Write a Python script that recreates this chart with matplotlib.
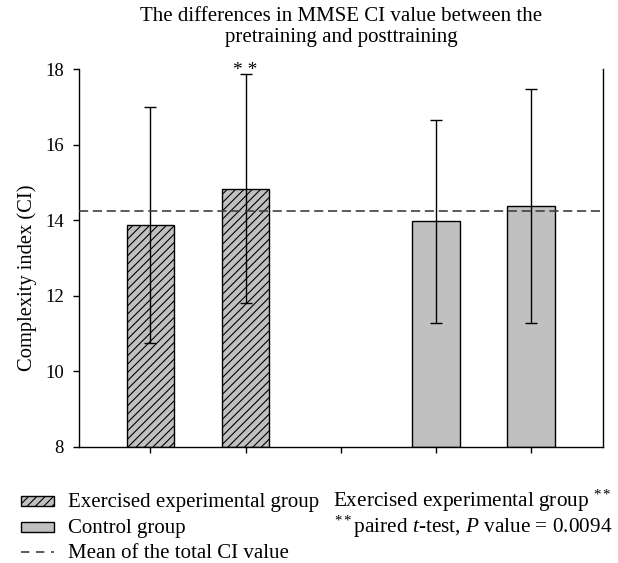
import matplotlib
matplotlib.use("Agg")
import matplotlib.pyplot as plt
from matplotlib.patches import Rectangle
from matplotlib.lines import Line2D

plt.rcParams['font.family'] = ['Liberation Serif', 'DejaVu Serif']
plt.rcParams['mathtext.fontset'] = 'custom'
plt.rcParams['mathtext.rm'] = 'Liberation Serif'
plt.rcParams['mathtext.it'] = 'Liberation Serif:italic'
plt.rcParams['hatch.linewidth'] = 0.8

# ---- data ----
positions = [1, 2, 4, 5]
groups = ["exercised", "exercised", "control", "control"]
means = [13.88, 14.84, 13.97, 14.38]
errors = [3.12, 3.04, 2.69, 3.11]
total_mean = 14.25
yticks = [8, 10, 12, 14, 16, 18]
title_lines = ["The differences in MMSE CI value between the",
               "pretraining and posttraining"]
ylabel = "Complexity index (CI)"
legend_labels = ["Exercised experimental group", "Control group",
                 "Mean of the total CI value"]
note_lines = ["Exercised experimental group ${}^{**}$",
              "${}^{**}$paired $t$-test, $P$ value = 0.0094"]

W, H = 618, 563
fig = plt.figure(figsize=(W / 100, H / 100), dpi=100)


def fx(x):
    return x / W


def fy(y):
    return 1 - y / H


L, R, T, B = 79, 602.7, 69.3, 446.7
ax = fig.add_axes([fx(L), fy(B), fx(R) - fx(L), fy(T) - fy(B)])

bar_color = "#c0c0c0"
for p, g, m, e in zip(positions, groups, means, errors):
    ax.bar(p, m - 8, bottom=8, width=0.5, color=bar_color, edgecolor="black",
           linewidth=1.0, hatch="////" if g == "exercised" else None, zorder=2)
    ax.errorbar(p, m, yerr=e, fmt="none", ecolor="black", elinewidth=1.0,
                capsize=4, capthick=1.0, zorder=3)

ax.axhline(total_mean, color="#404040", linewidth=1.2, linestyle=(0, (5.5, 2.8)),
           zorder=4)

ax.annotate("* *", xy=(2, errors[1] + means[1]), xytext=(0, -4),
            textcoords="offset points", ha="center", va="bottom", fontsize=14,
            zorder=5)

ax.set_xlim(0.25, 5.75)
ax.set_ylim(8, 18)
ax.set_xticks([1, 2, 3, 4, 5])
ax.set_xticklabels([])
ax.set_yticks(yticks)
ax.set_yticklabels([str(t) for t in yticks])
ax.tick_params(axis="y", direction="out", length=4, width=1, labelsize=13.5, pad=7)
ax.tick_params(axis="x", direction="out", length=4, width=1)
ax.spines["top"].set_visible(False)
for s in ["left", "bottom", "right"]:
    ax.spines[s].set_linewidth(1.0)

# title
cx = (L + R) / 2
fig.text(fx(cx), fy(20.7), title_lines[0], ha="center", va="baseline", fontsize=15)
fig.text(fx(cx), fy(42.0), title_lines[1], ha="center", va="baseline", fontsize=15)

# ylabel
fig.text(fx(27), fy(278), ylabel, rotation=90, ha="center", va="center", fontsize=14.8)

# legend (manual)
rows = [501, 527, 552]
pw, ph = 33.6, 10
for i, lab in enumerate(legend_labels):
    yc = rows[i]
    if i < 2:
        rect = Rectangle((fx(20.7), fy(yc + ph / 2)), fx(pw), ph / H,
                         transform=fig.transFigure, facecolor=bar_color,
                         edgecolor="black", linewidth=1.0,
                         hatch="////" if i == 0 else None)
        fig.add_artist(rect)
    else:
        ln = Line2D([fx(20.7), fx(54.3)], [fy(yc), fy(yc)], transform=fig.transFigure,
                    color="#404040", linewidth=1.2, linestyle=(0, (5.0, 4.0)))
        fig.add_artist(ln)
    fig.text(fx(68), fy(yc + 5.5), lab, ha="left", va="baseline", fontsize=15)

fig.text(fx(612), fy(506.7), note_lines[0], ha="right", va="baseline", fontsize=15.3)
fig.text(fx(612), fy(532.7), note_lines[1], ha="right", va="baseline", fontsize=15.3)

fig.savefig("out.png", dpi=100)
